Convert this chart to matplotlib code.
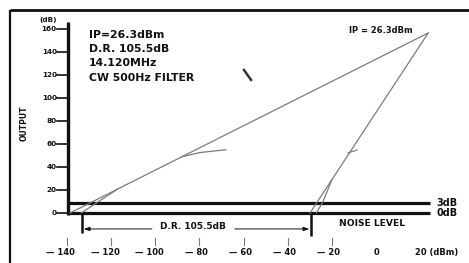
import matplotlib.pyplot as plt

plt.rcParams['font.family'] = 'DejaVu Sans'

# output level axis (dB) and input level axis (dBm)
y_ticks = [0, 20, 40, 60, 80, 100, 120, 140, 160]
x_ticks = [-140, -120, -100, -80, -60, -40, -20]
x_tick_labels = ['— 140', '— 120', '— 100', '— 80', '— 60', '— 40', '— 20']

# intercept point and the two straight response lines
ip_x, ip_y = 23.6, 156.5
fund_start = -138.6      # fundamental line meets 0 dB
imd_start = -29.9        # 3rd order IMD line meets 0 dB

# measured curves leaving the straight lines
fund_bend_x = [-88, -80, -68]
fund_bend_y = [48.8, 52.5, 55.0]
imd_bend_x = [-12.7, -8.6]
imd_bend_y = [52.2, 54.8]
fund_low_x = [-133.5, -126, -117]
fund_low_y = [0, 9.5, 20.8]
imd_low_x = [-27.0, -24.0, -20.0]
imd_low_y = [0, 10, 29]

# reference levels
levels = [8.7, 0]
level_labels = ['3dB', '0dB']

# dynamic range markers
dr_left, dr_right = -133.2, -29.4

fig = plt.figure(figsize=(4.69, 2.63), dpi=100)
ax = fig.add_axes([0, 0, 1, 1])
ax.set_xlim(-170.3, 42.1)
ax.set_ylim(-43.5, 185.2)
ax.axis('off')

gray = '#7c7c7c'
blk = '#111111'

# outer frame (top and left)
ax.plot([-165.8, 42.1], [176.5, 176.5], color=blk, lw=2.0, solid_capstyle='butt')
ax.plot([-165.8, -165.8], [176.5, -43.5], color=blk, lw=1.6, solid_capstyle='butt')

# y axis
ax.plot([-139.5, -139.5], [-1.7, 166], color=blk, lw=2.4, solid_capstyle='butt')
for t in y_ticks:
    ax.plot([-144.5, -139.5], [t, t], color=blk, lw=1.2)
    ax.text(-144.6, t, str(t), ha='right', va='center', fontsize=5.2,
            fontweight='bold', color=blk)
ax.text(-148.4, 167.8, '(dB)', ha='center', va='center', fontsize=5.2,
        fontweight='bold', color=blk)
ax.text(-159.5, 78, 'OUTPUT', ha='center', va='center', rotation=90,
        fontsize=5.5, fontweight='bold', color=blk)

# x axis ticks and labels
for t, lab in zip(x_ticks, x_tick_labels):
    ax.plot([t, t], [-21.7, -27.8], color=gray, lw=0.8)
    ax.text(t + 3.8, -34.8, lab, ha='right', va='center', fontsize=6.0,
            fontweight='bold', color=blk)
ax.text(0, -34.8, '0', ha='center', va='center', fontsize=6.0,
        fontweight='bold', color=blk)
ax.text(17.5, -34.8, '20 (dBm)', ha='left', va='center', fontsize=6.0,
        fontweight='bold', color=blk)

# reference level lines
for lv, lab in zip(levels, level_labels):
    ax.plot([-139.5, 24.5], [lv, lv], color=blk, lw=2.3, solid_capstyle='butt')
    ax.text(27.5, lv, lab, ha='left', va='center', fontsize=7,
            fontweight='bold', color=blk)
ax.text(-2.0, -9.5, 'NOISE LEVEL', ha='center', va='center', fontsize=6.6,
        fontweight='bold', color=blk)

# response lines
ax.plot([fund_start, ip_x], [0, ip_y], color=gray, lw=0.9)
ax.plot([imd_start, ip_x], [0, ip_y], color=gray, lw=0.9)
ax.plot(fund_bend_x, fund_bend_y, color=gray, lw=0.9)
ax.plot(imd_bend_x, imd_bend_y, color=gray, lw=0.9)
ax.plot(fund_low_x, fund_low_y, color=gray, lw=0.9)
ax.plot(imd_low_x, imd_low_y, color=gray, lw=0.9)

# dynamic range dimension
ax.plot([dr_left, dr_left], [0, -17.4], color=blk, lw=1.8, solid_capstyle='butt')
ax.plot([dr_right, dr_right], [0, -20.0], color=blk, lw=1.8, solid_capstyle='butt')
arrow = dict(arrowstyle='-|>,head_length=0.35,head_width=0.12', color=blk, lw=0.7,
             shrinkA=0, shrinkB=0)
ax.annotate('', xy=(dr_left + 0.8, -13.9), xytext=(-101.5, -13.9), arrowprops=arrow)
ax.annotate('', xy=(dr_right - 0.8, -13.9), xytext=(-64.0, -13.9), arrowprops=arrow)
ax.text(-82.7, -11.5, 'D.R. 105.5dB', ha='center', va='center', fontsize=6.5,
        fontweight='bold', color=blk)

# annotations
info = ['IP=26.3dBm', 'D.R. 105.5dB', '14.120MHz', 'CW 500Hz FILTER']
info_y = [155.0, 143.0, 130.0, 117.5]
for s, yy in zip(info, info_y):
    ax.text(-130.0, yy, s, ha='left', va='center', fontsize=7.8,
            fontweight='bold', color=blk)
ax.text(2.0, 159.0, 'IP = 26.3dBm', ha='center', va='center', fontsize=6.0,
        fontweight='bold', color=blk)

# small pointer mark
ax.plot([-59.8, -56.6], [124.3, 115.7], color='#333333', lw=1.8)

fig.savefig('out.png', dpi=100, facecolor='white')
